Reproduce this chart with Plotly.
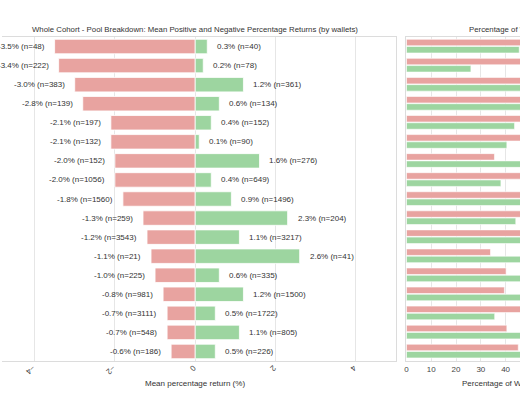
import plotly.graph_objects as go
from plotly.subplots import make_subplots

# pools (tick labels sit off-screen on the left, so they are hidden)
pools = ["Pool %d" % i for i in range(1, 18)]

neg_mean = [-3.5, -3.4, -3.0, -2.8, -2.1, -2.1, -2.0, -2.0, -1.8,
            -1.3, -1.2, -1.1, -1.0, -0.8, -0.7, -0.7, -0.6]
neg_n = [48, 222, 383, 139, 197, 132, 152, 1056, 1560,
         259, 3543, 21, 225, 981, 3111, 548, 186]
pos_mean = [0.3, 0.2, 1.2, 0.6, 0.4, 0.1, 1.6, 0.4, 0.9,
            2.3, 1.1, 2.6, 0.6, 1.2, 0.5, 1.1, 0.5]
pos_n = [40, 78, 361, 134, 152, 90, 276, 649, 1496,
         204, 3217, 41, 335, 1500, 1722, 805, 226]

# percentage of wallets (right panel)
neg_pct = [54.5, 74.0, 51.5, 50.9, 56.4, 59.5, 35.5, 61.9, 51.0,
           55.9, 52.4, 33.9, 40.2, 39.5, 64.4, 40.5, 45.1]
pos_pct = [45.5, 26.0, 48.5, 49.1, 43.6, 40.5, 64.5, 38.1, 49.0,
           44.1, 47.6, 66.1, 59.8, 60.5, 35.6, 59.5, 54.9]

RED = '#e8a3a0'
GREEN = '#9dd5a0'
W, H = 520, 400

fig = make_subplots(rows=1, cols=2, horizontal_spacing=0.02)

# left: diverging bars
fig.add_trace(go.Bar(y=pools, x=neg_mean, orientation='h', marker_color=RED,
                     marker_line=dict(color='white', width=0.8),
                     width=0.76, offset=-0.38, showlegend=False), row=1, col=1)
fig.add_trace(go.Bar(y=pools, x=pos_mean, orientation='h', marker_color=GREEN,
                     marker_line=dict(color='white', width=0.8),
                     width=0.76, offset=-0.38, showlegend=False), row=1, col=1)

# right: grouped bars
fig.add_trace(go.Bar(y=pools, x=neg_pct, orientation='h', marker_color=RED,
                     marker_line=dict(color='white', width=0.6),
                     width=0.34, offset=-0.38, showlegend=False), row=1, col=2)
fig.add_trace(go.Bar(y=pools, x=pos_pct, orientation='h', marker_color=GREEN,
                     marker_line=dict(color='white', width=0.6),
                     width=0.34, offset=0.0, showlegend=False), row=1, col=2)

lbl_font = dict(family='Liberation Sans, Arial', size=8, color='#333333')
annotations = []
for p, v, n in zip(pools, neg_mean, neg_n):
    annotations.append(dict(x=v, y=p, xref='x', yref='y', text='%.1f%% (n=%d)' % (v, n),
                            showarrow=False, xanchor='right', xshift=-8, font=lbl_font))
for p, v, n in zip(pools, pos_mean, pos_n):
    annotations.append(dict(x=v, y=p, xref='x', yref='y', text='%.1f%% (n=%d)' % (v, n),
                            showarrow=False, xanchor='left', xshift=8, font=lbl_font))

title_font = dict(family='Liberation Sans, Arial', size=7.8, color='#333333')
axt_font = dict(family='Liberation Sans, Arial', size=8, color='#333333')
annotations.append(dict(x=194 / W, y=1, xref='paper', yref='paper', yanchor='bottom', yshift=1,
                        text='Whole Cohort - Pool Breakdown: Mean Positive and Negative Percentage Returns (by wallets)',
                        showarrow=False, font=title_font))
annotations.append(dict(x=467 / W, y=1, xref='paper', yref='paper', xanchor='left', yanchor='bottom',
                        yshift=1, text='Percentage of Wallets with Positive and Negative Returns',
                        showarrow=False, font=title_font))
annotations.append(dict(x=194 / W, y=0, xref='paper', yref='paper', yanchor='middle', yshift=-22,
                        text='Mean percentage return (%)', showarrow=False, font=axt_font))
annotations.append(dict(x=460 / W, y=0, xref='paper', yref='paper', xanchor='left', yanchor='middle',
                        yshift=-22, text='Percentage of Wallets (%)', showarrow=False, font=axt_font))

tick_font = dict(family='Liberation Sans, Arial', size=8, color='#444444')
axis_common = dict(showgrid=True, gridcolor='#e6e6e6', gridwidth=1, zeroline=False,
                   showline=True, linecolor='#dcdcdc', linewidth=1, mirror=True,
                   ticks='', tickfont=tick_font)

fig.update_layout(
    width=W, height=H,
    margin=dict(l=0, r=0, t=37, b=39),
    paper_bgcolor='white', plot_bgcolor='white',
    barmode='overlay',
    annotations=annotations,
    xaxis=dict(domain=[0, 396 / W], range=[-4.81, 5.01], tickvals=[-4, -2, 0, 2, 4],
               tickangle=135, **axis_common),
    xaxis2=dict(domain=[406 / W, 1], range=[0, 45.8], tickvals=[0, 10, 20, 30, 40],
                **axis_common),
    # left panel: only its right border is on screen
    yaxis=dict(range=[16.5, -0.5], side='right', showticklabels=False, showgrid=False,
               zeroline=False, showline=True, linecolor='#dcdcdc', mirror=False),
    # right panel: only its left border is on screen
    yaxis2=dict(range=[16.5, -0.5], side='left', showticklabels=False, showgrid=False,
                zeroline=False, showline=True, linecolor='#dcdcdc', mirror=False),
)

# drop the page's default body margin so the figure fills the window
fig.write_html("out.html", config={'displayModeBar': False},
               post_script="document.body.style.margin='0';")
